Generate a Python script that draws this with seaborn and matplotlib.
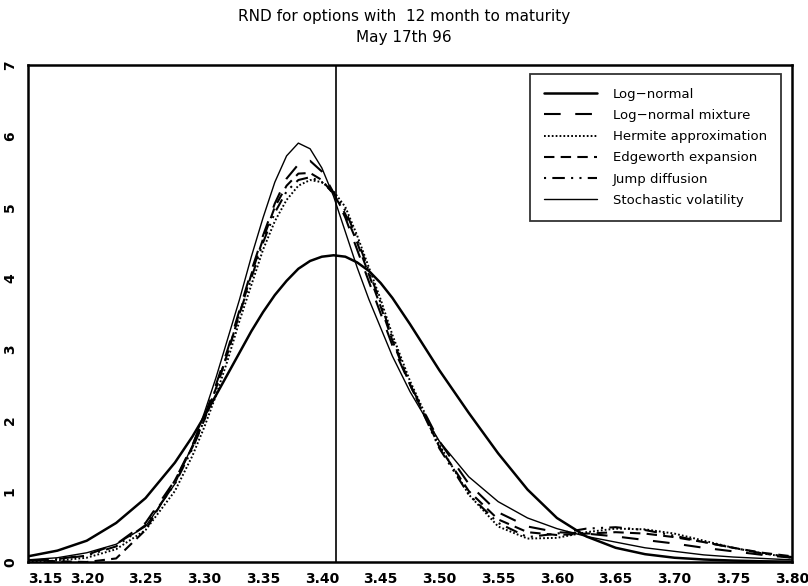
import numpy as np
import pandas as pd
import matplotlib
matplotlib.use('Agg')
import matplotlib.pyplot as plt
import seaborn as sns

# values
x = [3.15, 3.175, 3.20, 3.225, 3.25, 3.275, 3.29, 3.30, 3.31, 3.32, 3.33, 3.34,
     3.35, 3.36, 3.37, 3.38, 3.39, 3.40, 3.41, 3.42, 3.43, 3.44, 3.45, 3.46,
     3.475, 3.50, 3.525, 3.55, 3.575, 3.60, 3.625, 3.65, 3.675, 3.70, 3.725,
     3.75, 3.775, 3.80]

log_normal = [0.08, 0.16, 0.30, 0.55, 0.90, 1.40, 1.77, 2.05, 2.35, 2.65, 2.95, 3.25,
              3.52, 3.76, 3.96, 4.13, 4.24, 4.30, 4.32, 4.30, 4.22, 4.10, 3.93, 3.72,
              3.35, 2.70, 2.10, 1.53, 1.02, 0.62, 0.36, 0.20, 0.11, 0.06, 0.035,
              0.02, 0.01, 0.005]

ln_mixture = [0.02, 0.04, 0.10, 0.25, 0.55, 1.15, 1.65, 2.05, 2.50, 3.00, 3.55, 4.10,
              4.60, 5.05, 5.40, 5.60, 5.65, 5.50, 5.20, 4.85, 4.40, 3.95, 3.50, 3.05,
              2.50, 1.70, 1.10, 0.70, 0.50, 0.42, 0.40, 0.36, 0.31, 0.26, 0.20,
              0.15, 0.10, 0.06]

hermite = [0.00, 0.02, 0.06, 0.18, 0.45, 1.00, 1.50, 1.90, 2.35, 2.85, 3.40, 3.90,
           4.40, 4.80, 5.10, 5.30, 5.38, 5.35, 5.22, 5.00, 4.60, 4.15, 3.70, 3.20,
           2.55, 1.65, 0.95, 0.50, 0.33, 0.34, 0.42, 0.47, 0.46, 0.40, 0.30,
           0.20, 0.12, 0.06]

edgeworth = [0.03, 0.01, 0.00, 0.05, 0.45, 1.15, 1.62, 2.00, 2.45, 2.95, 3.50, 4.05,
             4.55, 5.00, 5.30, 5.47, 5.48, 5.38, 5.18, 4.90, 4.50, 4.05, 3.60, 3.12,
             2.50, 1.62, 1.00, 0.60, 0.42, 0.38, 0.40, 0.42, 0.40, 0.35, 0.28,
             0.20, 0.13, 0.08]

jump_diff = [0.02, 0.04, 0.09, 0.22, 0.52, 1.10, 1.60, 2.00, 2.45, 2.95, 3.50, 4.00,
             4.50, 4.92, 5.22, 5.38, 5.42, 5.35, 5.20, 4.95, 4.55, 4.10, 3.65, 3.15,
             2.50, 1.60, 0.95, 0.55, 0.35, 0.40, 0.47, 0.49, 0.45, 0.37, 0.28,
             0.20, 0.12, 0.07]

stoch_vol = [0.03, 0.06, 0.13, 0.25, 0.50, 1.10, 1.65, 2.10, 2.60, 3.15, 3.70, 4.30,
             4.85, 5.35, 5.72, 5.90, 5.82, 5.55, 5.15, 4.65, 4.15, 3.70, 3.30, 2.90,
             2.40, 1.70, 1.20, 0.85, 0.62, 0.47, 0.36, 0.28, 0.20, 0.15, 0.10,
             0.07, 0.05, 0.03]

labels = ['Log\u2212normal', 'Log\u2212normal mixture', 'Hermite approximation',
          'Edgeworth expansion', 'Jump diffusion', 'Stochastic volatility']
xticks = [3.15, 3.20, 3.25, 3.30, 3.35, 3.40, 3.45, 3.50, 3.55, 3.60, 3.65, 3.70, 3.75, 3.80]
yticks = [0, 1, 2, 3, 4, 5, 6, 7]
spot = 3.412

sns.set_style('white')
plt.rcParams['font.family'] = ['DejaVu Sans']
plt.rcParams['text.color'] = 'black'
plt.rcParams['xtick.color'] = 'black'
plt.rcParams['ytick.color'] = 'black'

fig, ax = plt.subplots(figsize=(8.08, 5.86), dpi=100)
fig.subplots_adjust(left=28/808, right=792/808, top=1-65/586, bottom=1-562/586)

series = [log_normal, ln_mixture, hermite, edgeworth, jump_diff, stoch_vol]
styles = ['-', (0, (8, 7)), (0, (0.9, 1.1)), (0, (5, 3)), (0, (1, 3, 6, 3, 1, 3)), '-']
widths = [1.8, 1.5, 1.4, 1.5, 1.5, 1.0]

for vals, lab, ls, lw in zip(series, labels, styles, widths):
    sns.lineplot(x=x, y=vals, ax=ax, color='black', lw=lw, linestyle=ls, label=lab)

ax.axvline(spot, color='black', lw=1.2)

ax.set_xlim(3.15, 3.80)
ax.set_ylim(0, 7)
ax.set_xticks(xticks)
ax.set_xticklabels([f'{t:.2f}' for t in xticks], fontsize=10, fontweight='semibold')
ax.set_yticks(yticks)
ax.set_yticklabels([str(t) for t in yticks], fontsize=10, fontweight='semibold',
                   rotation=90, va='center')
ax.get_xticklabels()[0].set_ha('left')
ax.tick_params(direction='in', length=5, width=1.2, color='black', pad=7)
ax.tick_params(axis='y', pad=8)
for sp in ax.spines.values():
    sp.set_linewidth(1.8)
    sp.set_color('black')

fig.suptitle('RND for options with  12 month to maturity\nMay 17th 96',
             fontsize=11, y=0.985, linespacing=1.5, color='black')

leg = ax.legend(loc='upper right', bbox_to_anchor=(0.985, 0.982), fontsize=9.5,
                handlelength=4.0, handletextpad=1.2, labelspacing=0.62,
                borderpad=1.05, frameon=True, fancybox=False, borderaxespad=0)
leg.get_frame().set_edgecolor('black')
leg.get_frame().set_linewidth(1.3)
for t in leg.get_texts():
    t.set_color('black')

fig.savefig('out.png', dpi=100)
